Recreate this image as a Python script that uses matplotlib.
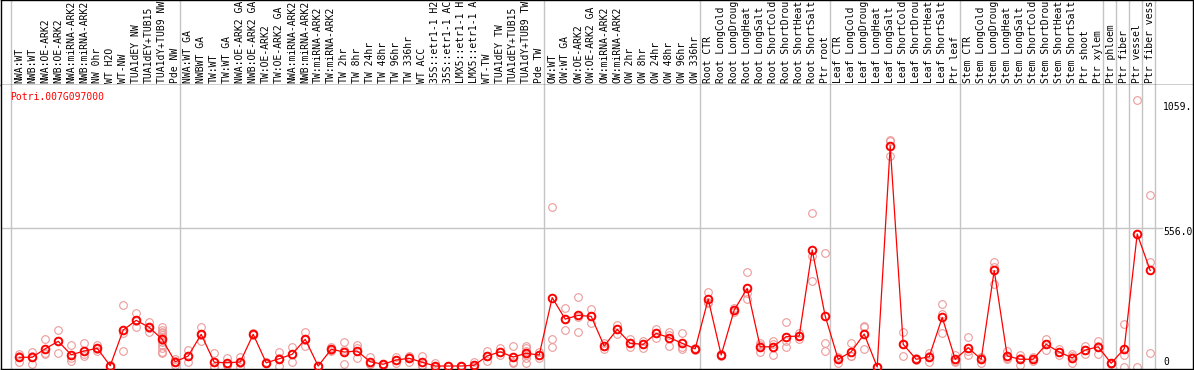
import matplotlib
matplotlib.use("Agg")
import matplotlib.pyplot as plt
from matplotlib.transforms import blended_transform_factory

W, H = 1194, 370

# sample names, one column each
nw_labels = ["NWA:WT", "NWB:WT", "NWA:OE-ARK2", "NWB:OE-ARK2", "NWA:miRNA-ARK2",
             "NWB:miRNA-ARK2", "NW 0hr", "WT H2O", "WT-NW", "TUA1dEY NW",
             "TUA1dEY+TUB15 NW", "TUA1dY+TUB9 NW", "Pde NW"]
tw_labels = ["NWA:WT GA", "NWBWT GA", "TW:WT", "TW:WT GA", "NWA:OE-ARK2 GA",
             "NWB:OE-ARK2 GA", "TW:OE-ARK2", "TW:OE-ARK2 GA", "NWA:miRNA-ARK2",
             "NWB:miRNA-ARK2", "TW:miRNA-ARK2", "TW:miRNA-ARK2 GA", "TW 2hr", "TW 8hr",
             "TW 24hr", "TW 48hr", "TW 96hr", "TW 336hr", "WT ACC", "35S::etr1-1 H2O",
             "35S::etr1-1 ACC", "LMX5::etr1-1 H2O", "LMX5::etr1-1 ACC", "WT-TW",
             "TUA1dEY TW", "TUA1dEY+TUB15 TW", "TUA1dY+TUB9 TW", "Pde TW"]
ow_labels = ["OW:WT", "OW:WT GA", "OW:OE-ARK2", "OW:OE-ARK2 GA", "OW:miRNA-ARK2",
             "OW:miRNA-ARK2 GA", "OW 2hr", "OW 8hr", "OW 24hr", "OW 48hr", "OW 96hr",
             "OW 336hr"]
stress = ["CTR", "LongCold", "LongDrought", "LongHeat", "LongSalt",
          "ShortCold", "ShortDrought", "ShortHeat", "ShortSalt"]
root_labels = ["Root " + s for s in stress] + ["Ptr root"]
leaf_labels = ["Leaf " + s for s in stress] + ["Ptr leaf"]
stem_labels = ["Stem " + s for s in stress] + ["Ptr shoot", "Ptr xylem"]
ptr_labels = ["Ptr phloem", "Ptr fiber", "Ptr vessel", "Ptr fiber vessel"]

labels = nw_labels + tw_labels + ow_labels + root_labels + leaf_labels + stem_labels + ptr_labels
group_sizes = [13, 28, 12, 10, 10, 11, 1, 1, 1, 1]
max_chars = 14  # the header only has room for this many

# mean expression per sample
means = [39, 39, 73, 103, 49, 64, 75, 5, 148, 187, 159, 111, 21,
         44, 131, 19, 17, 20, 131, 17, 33, 51, 111, 4, 71, 60, 64, 21, 11, 28,
         35, 19, 4, 4, 4, 7, 44, 61, 40, 55, 48,
         278, 192, 207, 203, 84, 151, 95, 91, 135, 118, 95, 73,
         272, 48, 228, 315, 81, 81, 122, 124, 469, 204,
         31, 61, 132, 0, 886, 91, 31, 41, 199, 31,
         77, 31, 387, 44, 31, 31, 91, 60, 37, 68, 81,
         15, 73, 533, 387]

# replicate values per sample
reps = [[52, 43, 21], [61, 44, 11], [112, 57, 52], [148, 106, 55], [87, 36, 25],
        [96, 52, 44], [88, 72, 64], [8, 5, 3], [247, 135, 64], [216, 185, 160],
        [179, 156, 142], [159, 150, 142, 135, 128, 120, 110, 100, 88, 75, 62, 55],
        [31, 25, 8],
        [68, 44, 20], [159, 130, 104], [55, 1, 0], [35, 9, 8], [41, 18, 1],
        [135, 131, 127], [20, 17, 15], [60, 35, 5], [80, 53, 19], [140, 109, 84],
        [6, 4, 2], [79, 68, 66], [99, 70, 11], [87, 75, 35], [39, 13, 12],
        [14, 10, 8], [41, 28, 15], [44, 39, 21], [44, 9, 3], [15, 0, 0],
        [5, 4, 3], [5, 4, 3], [19, 1, 0], [64, 43, 25], [75, 61, 48],
        [84, 19, 17], [84, 75, 64, 55, 48, 35, 17], [61, 48, 35],
        [643, 112, 79], [235, 193, 148], [281, 200, 140], [231, 203, 175],
        [95, 84, 71], [168, 151, 134], [111, 95, 79], [104, 91, 78],
        [151, 138, 115], [142, 127, 84], [135, 79, 71], [78, 73, 68],
        [299, 260, 258], [53, 48, 43], [236, 228, 220], [379, 295, 271],
        [95, 88, 61], [105, 92, 47], [179, 105, 81], [135, 126, 111],
        [616, 446, 345], [457, 95, 64],
        [40, 36, 17], [95, 44, 44], [164, 161, 71], [1, 0, 0], [908, 905, 845],
        [139, 91, 44], [35, 31, 27], [57, 45, 21], [252, 212, 135], [48, 25, 20],
        [122, 63, 47], [41, 35, 17], [422, 402, 333], [64, 37, 31], [48, 37, 8],
        [39, 31, 23], [112, 91, 70], [71, 60, 49], [51, 45, 15], [85, 67, 52],
        [105, 86, 52],
        [17, 15, 13], [172, 48, 0], [1072, 0], [688, 419, 55]]

gene = "Potri.007G097000"
ytick_vals = [1059, 556.0, 0]
ytick_text = ["1059.", "556.0", "0"]

mono = "DejaVu Sans Mono"
fs = 7.0
grey = "#c4c4c4"
pink = "#ec9a9a"


def box(x0, y0, x1, y1):
    # pixel box (top-left origin) -> figure fraction rect
    return [x0 / W, 1 - y1 / H, (x1 - x0) / W, (y1 - y0) / H]


fig = plt.figure(figsize=(W / 100, H / 100), dpi=100)
head = fig.add_axes(box(1, 0, 1193, 85))
ax = fig.add_axes(box(1, 85, 1193, 369))

xmin = (1 - 19.2) / 13
xmax = xmin + 1192 / 13
for a in (head, ax):
    a.set_xlim(xmin, xmax)
    a.set_xticks([])
    a.set_yticks([])
    for s in a.spines.values():
        s.set_color("black")
        s.set_linewidth(1.0)
head.set_ylim(0, 1)
ax.set_ylim(-8.0, 1130.3)
ax.spines["top"].set_visible(False)

# group separators
edge = -1
bounds = [edge + 0.37]
for g in group_sizes:
    edge += g
    bounds.append(edge + 0.37)
for b in bounds:
    for a in (head, ax):
        a.axvline(b, color=grey, lw=1.0, zorder=1)

ax.plot([xmin, 87.9], [ytick_vals[1], ytick_vals[1]], color=grey, lw=1.0, zorder=1)

# column labels
tr = blended_transform_factory(head.transData, fig.transFigure)
for i, lab in enumerate(labels):
    head.text(i, 1 - 83 / H, lab[:max_chars].rstrip(), rotation=90, ha="center",
              va="bottom", fontsize=fs, family=mono, transform=tr)

# replicates then means
for i, r in enumerate(reps):
    ax.plot([i] * len(r), r, "o", mfc="none", mec=pink, ms=5.5, mew=0.8, zorder=2)
ax.plot(range(len(means)), means, "-", color="red", lw=0.9, marker="o",
        mfc="none", mec="red", ms=5.5, mew=1.4, zorder=3)

fig.text(10 / W, 1 - 97 / H, gene, color="red", fontsize=fs, family=mono,
         ha="left", va="center")
for ypx, t in zip([106.7, 232, 361.7], ytick_text):
    fig.text(1163 / W, 1 - ypx / H, t, fontsize=fs, family=mono, ha="left", va="center")

fig.savefig("out.png", dpi=100)
